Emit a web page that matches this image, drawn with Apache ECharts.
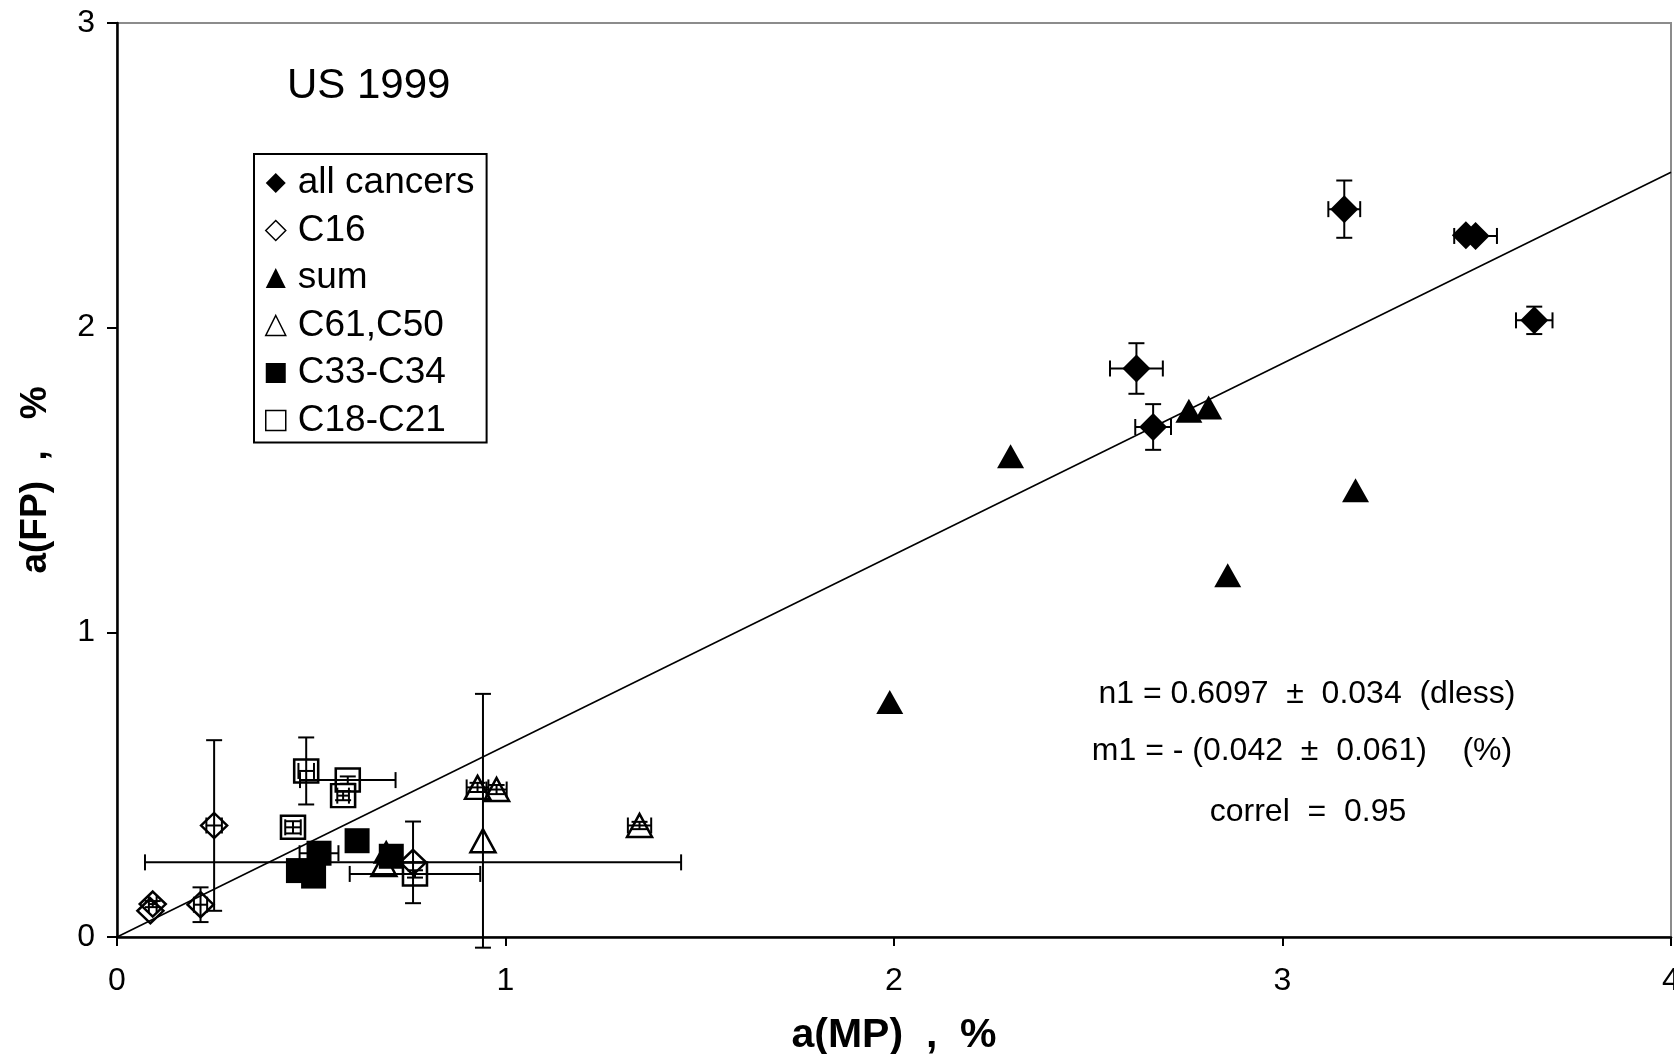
<!DOCTYPE html>
<html lang="en">
<head>
    <meta charset="UTF-8">
    <title>US 1999 - a(FP) vs a(MP)</title>
    <script src="https://cdn.jsdelivr.net/npm/echarts/dist/echarts.min.js"></script>
    <style>
        html, body { margin: 0; padding: 0; background: #fff; }
    </style>
</head>
<body>
<div id="main" style="width: 1674px; height: 1054px"></div>

<script>
    // tick labels
    var xTickLabels = ['0', '1', '2', '3', '4'];
    var yTickLabels = ['0', '1', '2', '3'];

    // series points [a(MP), a(FP)] and error bars [x-, x+, y-, y+]
    var allCancers = [[3.159, 2.389], [3.472, 2.303], [3.497, 2.301], [3.648, 2.024], [2.624, 1.866], [2.667, 1.674]];
    var allCancersErr = [[0.041, 0.041, 0.094, 0.094], [0, 0, 0, 0], [0.055, 0.055, 0.012, 0.012], [0.047, 0.047, 0.045, 0.045], [0.068, 0.068, 0.083, 0.083], [0.046, 0.046, 0.075, 0.075]];

    var c16 = [[0.092, 0.108], [0.086, 0.086], [0.215, 0.106], [0.250, 0.366], [0.762, 0.245]];
    var c16Err = [[0.01, 0.01, 0.01, 0.01], [0, 0, 0, 0], [0.017, 0.017, 0.057, 0.057], [0.02, 0.02, 0.28, 0.28], [0.69, 0.69, 0.134, 0.134]];

    var sum = [[2.300, 1.578], [2.759, 1.727], [2.810, 1.738], [2.859, 1.187], [1.989, 0.771], [3.188, 1.466], [0.693, 0.280]];
    var sumErr = [[0, 0, 0, 0], [0, 0, 0, 0], [0, 0, 0, 0], [0, 0, 0, 0], [0, 0, 0, 0], [0, 0, 0, 0], [0, 0, 0, 0]];

    var c61c50 = [[0.687, 0.238], [0.928, 0.491], [0.977, 0.484], [0.942, 0.316], [1.345, 0.366]];
    var c61c50Err = [[0, 0, 0, 0], [0.028, 0.028, 0.015, 0.015], [0.026, 0.026, 0.015, 0.015], [0, 0, 0.351, 0.482], [0.03, 0.03, 0.012, 0.012]];

    var c33c34 = [[0.467, 0.218], [0.506, 0.200], [0.520, 0.275], [0.618, 0.316], [0.706, 0.265]];
    var c33c34Err = [[0, 0, 0, 0], [0, 0, 0, 0], [0.05, 0.05, 0, 0], [0, 0, 0, 0], [0, 0, 0, 0]];

    var c18c21 = [[0.487, 0.545], [0.594, 0.515], [0.582, 0.464], [0.453, 0.360], [0.767, 0.207]];
    var c18c21Err = [[0.02, 0.02, 0.11, 0.11], [0.123, 0.123, 0.012, 0.012], [0.015, 0.015, 0.015, 0.015], [0.02, 0.02, 0.02, 0.02], [0.168, 0.168, 0.012, 0.012]];

    // fitted line end points
    var fitLine = [[0, 0], [4, 2.51]];

    var fontFamily = '"Liberation Sans", Arial, sans-serif';

    var groups = [
        {name: 'all cancers', data: allCancers, err: allCancersErr, symbol: 'diamond', size: 28, filled: true},
        {name: 'C16', data: c16, err: c16Err, symbol: 'diamond', size: [26, 25], filled: false},
        {name: 'sum', data: sum, err: sumErr, symbol: 'triangle', size: [27, 24], filled: true},
        {name: 'C61,C50', data: c61c50, err: c61c50Err, symbol: 'triangle', size: [25, 23], filled: false},
        {name: 'C33-C34', data: c33c34, err: c33c34Err, symbol: 'rect', size: 25, filled: true},
        {name: 'C18-C21', data: c18c21, err: c18c21Err, symbol: 'rect', size: [24, 23], filled: false}
    ];

    var series = [];
    var errData = [];
    for (var i = 0; i < groups.length; i++) {
        var g = groups[i];
        series.push({
            name: g.name,
            type: 'scatter',
            symbol: g.symbol,
            symbolSize: g.size,
            data: g.data,
            z: 3,
            itemStyle: g.filled ? {color: '#000', opacity: 1} : {color: 'rgba(0,0,0,0)', borderColor: '#000', borderWidth: 2.5, opacity: 1}
        });
        for (var j = 0; j < g.data.length; j++) {
            errData.push(g.data[j].concat(g.err[j]));
        }
    }

    // error bars
    function renderErrorBar(params, api) {
        var x = api.value(0), y = api.value(1);
        var xl = api.value(2), xh = api.value(3), yl = api.value(4), yh = api.value(5);
        var cap = 8;
        var style = {stroke: '#000', lineWidth: 2};
        var kids = [];
        if (yl || yh) {
            var t = api.coord([x, y + yh]), b = api.coord([x, y - yl]);
            kids.push({type: 'line', shape: {x1: t[0], y1: t[1], x2: b[0], y2: b[1]}, style: style});
            kids.push({type: 'line', shape: {x1: t[0] - cap, y1: t[1], x2: t[0] + cap, y2: t[1]}, style: style});
            kids.push({type: 'line', shape: {x1: b[0] - cap, y1: b[1], x2: b[0] + cap, y2: b[1]}, style: style});
        }
        if (xl || xh) {
            var l = api.coord([x - xl, y]), r = api.coord([x + xh, y]);
            kids.push({type: 'line', shape: {x1: l[0], y1: l[1], x2: r[0], y2: r[1]}, style: style});
            kids.push({type: 'line', shape: {x1: l[0], y1: l[1] - cap, x2: l[0], y2: l[1] + cap}, style: style});
            kids.push({type: 'line', shape: {x1: r[0], y1: r[1] - cap, x2: r[0], y2: r[1] + cap}, style: style});
        }
        return {type: 'group', children: kids};
    }

    series.push({
        name: 'errors',
        type: 'custom',
        renderItem: renderErrorBar,
        encode: {x: 0, y: 1},
        data: errData,
        z: 4,
        silent: true
    });

    series.push({
        name: 'fit',
        type: 'line',
        data: fitLine,
        symbol: 'none',
        z: 2,
        silent: true,
        lineStyle: {color: '#000', width: 1.6}
    });

    var myChart = echarts.init(document.getElementById('main'));

    var option = {
        animation: false,
        backgroundColor: '#fff',
        grid: {
            left: 117,
            right: 3,
            top: 23,
            bottom: 117,
            containLabel: false,
            outerBoundsMode: 'none',
            show: true,
            borderColor: '#8c8c8c',
            borderWidth: 2
        },
        legend: {
            orient: 'vertical',
            left: 254,
            top: 154,
            data: ['all cancers', 'C16', 'sum', 'C61,C50', 'C33-C34', 'C18-C21'],
            selectedMode: false,
            borderColor: '#000',
            borderWidth: 2,
            padding: [9, 12, 2, 11],
            itemGap: 7.5,
            itemWidth: 20,
            itemHeight: 20,
            itemStyle: {borderWidth: 1.5, opacity: 1},
            textStyle: {
                fontFamily: fontFamily,
                fontSize: 37,
                lineHeight: 40,
                color: '#000',
                padding: [0, 0, 0, 7]
            }
        },
        graphic: [
            {type: 'text', left: 287, top: 65, style: {text: 'US 1999', font: '42px ' + fontFamily, fill: '#000'}},
            {type: 'text', x: 1307, y: 694, style: {text: 'n1 = 0.6097  \u00b1  0.034  (dless)', font: '32px ' + fontFamily, fill: '#000', align: 'center', verticalAlign: 'middle'}},
            {type: 'text', x: 1302, y: 751, style: {text: 'm1 = - (0.042  \u00b1  0.061)    (%)', font: '32px ' + fontFamily, fill: '#000', align: 'center', verticalAlign: 'middle'}},
            {type: 'text', x: 1308, y: 812, style: {text: 'correl  =  0.95', font: '32px ' + fontFamily, fill: '#000', align: 'center', verticalAlign: 'middle'}}
        ],
        xAxis: {
            type: 'value',
            min: 0,
            max: 4,
            interval: 1,
            name: 'a(MP)  ,  %',
            nameLocation: 'middle',
            nameGap: 78,
            nameMoveOverlap: false,
            nameTextStyle: {fontFamily: fontFamily, fontSize: 41, fontWeight: 'bold', color: '#000'},
            axisLine: {onZero: false, lineStyle: {color: '#000', width: 2.5}},
            axisTick: {show: true, length: 9, lineStyle: {color: '#000', width: 2}},
            axisLabel: {
                margin: 28,
                fontFamily: fontFamily,
                fontSize: 32,
                color: '#000',
                formatter: function (v) { return xTickLabels[Math.round(v)]; }
            },
            splitLine: {show: false}
        },
        yAxis: {
            type: 'value',
            min: 0,
            max: 3,
            interval: 1,
            name: 'a(FP)  ,   %',
            nameLocation: 'middle',
            nameGap: 63,
            nameMoveOverlap: false,
            nameTextStyle: {fontFamily: fontFamily, fontSize: 37, fontWeight: 'bold', color: '#000'},
            axisLine: {onZero: false, lineStyle: {color: '#000', width: 2.5}},
            axisTick: {show: true, length: 10, lineStyle: {color: '#000', width: 2}},
            axisLabel: {
                margin: 22,
                fontFamily: fontFamily,
                fontSize: 32,
                color: '#000',
                formatter: function (v) { return yTickLabels[Math.round(v)]; }
            },
            splitLine: {show: false}
        },
        series: series
    };

    myChart.setOption(option);
</script>
</body>
</html>
